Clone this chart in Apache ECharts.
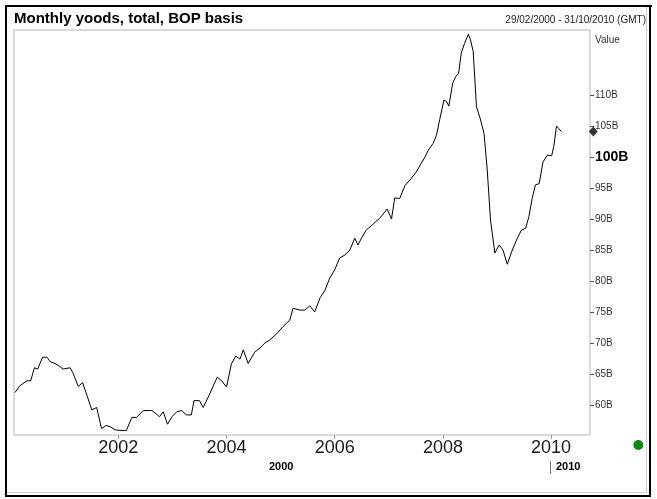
<!DOCTYPE html>
<html><head><meta charset="utf-8">
<script src="https://cdn.jsdelivr.net/npm/echarts@6/dist/echarts.min.js"></script>
<style>html,body{margin:0;padding:0;background:#fff}#c{width:657px;height:499px}</style>
</head><body><div id="c"></div>
<script>
// Decimal-year positions of the monthly readings
const years = [
2000.09,2000.18,2000.31,2000.38,2000.45,2000.51,2000.60,2000.68,2000.74,2000.83,
2000.92,2000.98,2001.11,2001.16,2001.26,2001.34,2001.43,2001.51,2001.60,2001.69,
2001.77,2001.85,2001.94,2002.03,2002.15,2002.25,2002.34,2002.46,2002.62,2002.71,
2002.76,2002.83,2002.91,2002.99,2003.08,2003.17,2003.26,2003.35,2003.40,2003.50,
2003.57,2003.68,2003.75,2003.83,2003.91,2004.00,2004.09,2004.17,2004.25,2004.31,
2004.40,2004.52,2004.62,2004.71,2004.80,2004.93,2005.04,2005.17,2005.23,2005.36,
2005.45,2005.54,2005.63,2005.73,2005.82,2005.91,2006.00,2006.09,2006.19,2006.28,
2006.37,2006.43,2006.50,2006.58,2006.69,2006.76,2006.83,2006.97,2007.05,2007.11,
2007.20,2007.30,2007.42,2007.51,2007.60,2007.67,2007.73,2007.82,2007.88,2007.94,
2008.02,2008.07,2008.11,2008.18,2008.24,2008.29,2008.34,2008.40,2008.47,2008.51,
2008.56,2008.62,2008.69,2008.76,2008.82,2008.88,2008.96,2009.04,2009.11,2009.19,
2009.27,2009.36,2009.45,2009.53,2009.59,2009.65,2009.71,2009.78,2009.85,2009.93,
2010.01,2010.05,2010.10,2010.14,2010.19];
// Values in billions
const values = [
62.0,63.1,63.9,63.9,66.0,65.8,67.7,67.7,67.0,66.7,
66.2,65.8,66.0,65.2,63.0,63.6,61.3,59.2,59.6,56.2,
56.7,56.5,56.0,55.9,55.9,58.0,58.0,59.1,59.1,58.5,
58.1,58.9,56.9,58.1,58.9,59.1,58.4,58.4,60.7,60.7,
59.6,61.6,63.0,64.5,63.9,62.9,66.6,67.9,67.4,68.9,
66.7,68.5,69.2,70.0,70.5,71.5,72.6,73.7,75.6,75.3,
75.3,76.0,75.0,77.3,78.5,80.5,81.8,83.7,84.2,85.0,
86.9,85.8,87.0,88.2,89.0,89.6,90.1,91.6,90.0,93.4,
93.3,95.4,96.6,97.6,99.0,100.0,101.1,102.2,103.5,106.0,
109.2,108.9,108.2,111.9,113.0,113.5,116.8,118.3,119.8,118.9,
117.0,108.1,106.2,103.8,97.9,89.8,84.5,85.8,85.0,82.7,
84.7,86.6,88.2,88.5,90.4,93.3,95.5,95.7,99.2,100.3,
100.2,101.7,105.0,104.6,104.1];
const xTickYears = [2002, 2004, 2006, 2008, 2010];
const yTickValues = [60, 65, 70, 75, 80, 85, 90, 95, 100, 105, 110];

const chart = echarts.init(document.getElementById('c'), null, {renderer: 'canvas'});
const lineData = years.map((y, i) => [y, values[i]]);
const lastValue = values[values.length - 1];

const option = {
  animation: false,
  backgroundColor: '#fff',
  grid: {left: 14, top: 30, width: 576, height: 405, show: true, borderColor: '#b4b4b4', borderWidth: 1, backgroundColor: 'transparent'},
  xAxis: {
    type: 'value', min: 2000.072, max: 2010.719,
    splitLine: {show: false},
    axisLine: {show: false},
    axisTick: {show: true, customValues: xTickYears, length: 4, lineStyle: {color: '#999'}},
    axisLabel: {customValues: xTickYears, formatter: v => String(v), fontSize: 18, color: '#1a1a1a', margin: 4, fontFamily: 'Liberation Sans, Arial, sans-serif'}
  },
  yAxis: {
    type: 'value', position: 'right', min: 55.16, max: 120.48,
    splitLine: {show: false},
    axisLine: {show: false},
    axisTick: {show: true, customValues: yTickValues, length: 4, lineStyle: {color: '#555'}},
    axisLabel: {
      customValues: yTickValues, margin: 5, fontSize: 10, color: '#333',
      fontFamily: "'Liberation Sans Narrow', 'Liberation Sans', Arial, sans-serif",
      formatter: v => v === 100 ? '{b|100B}' : v + 'B',
      rich: {b: {fontSize: 14, fontWeight: 'bold', color: '#000', fontFamily: 'Liberation Sans, Arial, sans-serif'}}
    }
  },
  series: [
    {type: 'line', data: lineData, showSymbol: false, symbol: 'none', lineStyle: {color: '#000', width: 1}, clip: false},
    {type: 'scatter', data: [[2010.78, lastValue]], symbol: 'diamond', symbolSize: [9, 10], itemStyle: {color: '#000'}, clip: false}
  ],
  graphic: [
    {type: 'rect', shape: {x: 5, y: 5, width: 2, height: 492}, style: {fill: '#000'}},
    {type: 'rect', shape: {x: 5, y: 5, width: 647, height: 2}, style: {fill: '#000'}},
    {type: 'rect', shape: {x: 649, y: 5, width: 2, height: 492}, style: {fill: '#000'}},
    {type: 'rect', shape: {x: 5, y: 495, width: 646, height: 2}, style: {fill: '#000'}},
    {type: 'line', shape: {x1: 7, y1: 492.5, x2: 647, y2: 492.5}, style: {stroke: '#cfcfcf', lineWidth: 1}},
    {type: 'line', shape: {x1: 646.5, y1: 7, x2: 646.5, y2: 492}, style: {stroke: '#cfcfcf', lineWidth: 1}},
    {type: 'text', left: 14, top: 11, style: {text: 'Monthly yoods, total, BOP basis', font: 'bold 15px "Liberation Sans", Arial, sans-serif', fill: '#000'}},
    {type: 'text', right: 11, top: 15, style: {text: '29/02/2000 - 31/10/2010 (GMT)', font: '10px "Liberation Sans", Arial, sans-serif', fill: '#222'}},
    {type: 'text', left: 595, top: 35, style: {text: 'Value', font: "10px 'Liberation Sans Narrow', 'Liberation Sans', Arial, sans-serif", fill: '#333'}},
    {type: 'text', left: 269, top: 461, style: {text: '2000', font: 'bold 11px "Liberation Sans", Arial, sans-serif', fill: '#000'}},
    {type: 'line', shape: {x1: 550.5, y1: 461, x2: 550.5, y2: 474}, style: {stroke: '#777', lineWidth: 1}},
    {type: 'text', left: 556, top: 461, style: {text: '2010', font: 'bold 11px "Liberation Sans", Arial, sans-serif', fill: '#000'}},
    {type: 'circle', shape: {cx: 638.3, cy: 445, r: 5}, style: {fill: '#108a10'}}
  ]
};
chart.setOption(option);
</script></body></html>
